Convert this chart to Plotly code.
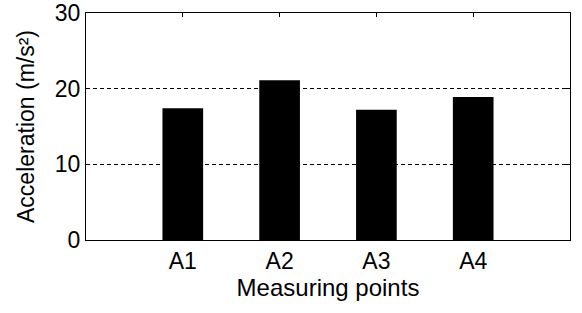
import plotly.graph_objects as go

categories = ["A1", "A2", "A3", "A4"]
values = [17.4, 21.1, 17.2, 18.9]
y_ticks = [0, 10, 20, 30]

fig = go.Figure(go.Bar(
    x=categories, y=values,
    marker=dict(color="black", line=dict(width=0)),
    width=0.42,
))

font = dict(family="Liberation Sans, Arial, sans-serif", color="black")
FS = 23

fig.update_layout(
    width=582, height=313,
    margin=dict(l=86, r=12, t=13, b=73),
    paper_bgcolor="white", plot_bgcolor="white",
    showlegend=False,
    font=dict(size=FS, **font),
)
fig.update_xaxes(
    type="category", range=[-1, 4], automargin=False,
    showline=True, linecolor="black", linewidth=1, mirror="ticks",
    ticks="inside", ticklen=4, tickcolor="black",
    showgrid=False, zeroline=False,
    tickfont=dict(size=FS, **font),
    title=dict(text="Measuring points", font=dict(size=24, **font), standoff=2),
)
fig.update_yaxes(
    range=[0, 30], tickvals=y_ticks, automargin=False,
    showline=True, linecolor="black", linewidth=1, mirror="ticks",
    ticks="inside", ticklen=4, tickcolor="black",
    showgrid=True, gridcolor="black", gridwidth=1.2, griddash="4px,3px",
    zeroline=False,
    tickfont=dict(size=FS, **font),
    title=dict(text="Acceleration (m/s²)", font=dict(size=23, **font), standoff=13),
)

fig.write_html("out.html", config={"displayModeBar": False},
               post_script="document.body.style.margin='0';")
